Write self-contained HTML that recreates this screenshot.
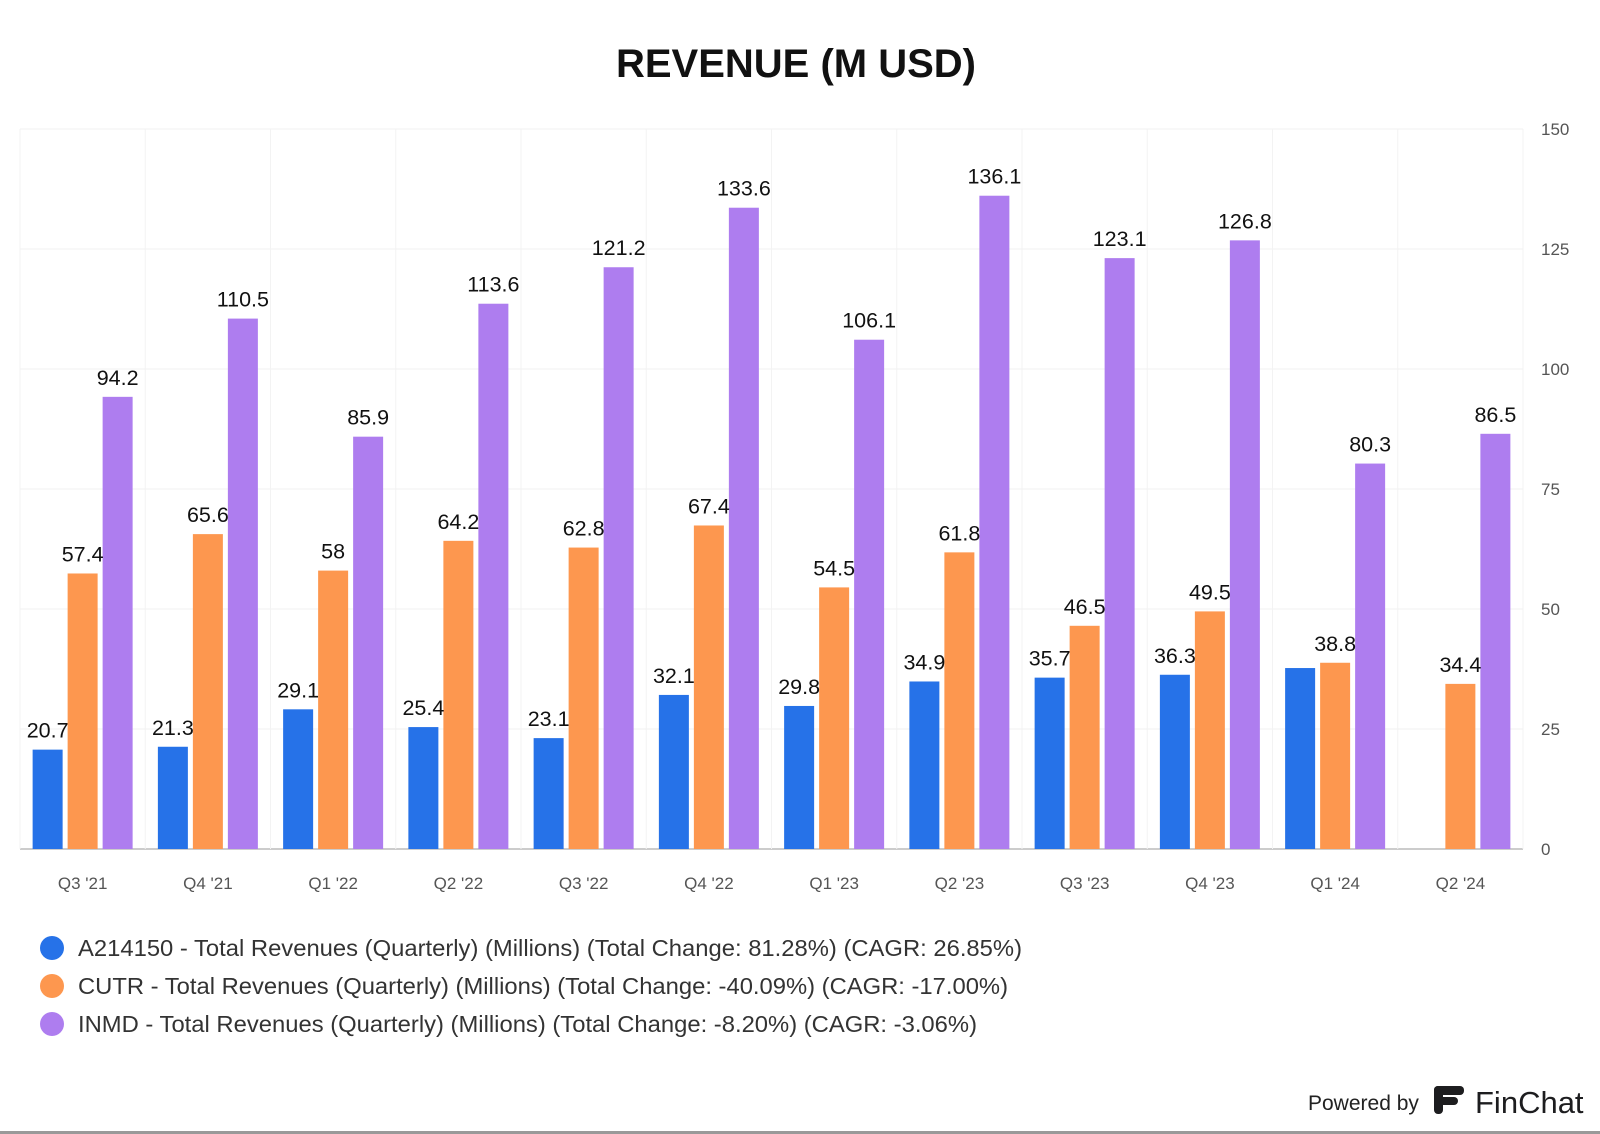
<!DOCTYPE html>
<html><head><meta charset="utf-8"><style>
html,body{margin:0;padding:0;background:#fff;}
body{width:1600px;height:1134px;position:relative;overflow:hidden;font-family:"Liberation Sans",sans-serif;}
</style></head><body>
<svg id="chart" width="1600" height="1134" xmlns="http://www.w3.org/2000/svg" style="position:absolute;left:0;top:0">
<text x="796" y="77" text-anchor="middle" font-family="Liberation Sans, sans-serif" font-weight="bold" font-size="40" fill="#111">REVENUE (M USD)</text>
<g id="grid"></g><g id="bars"></g><g id="labels"></g><g id="axes"></g>
<g font-size="23" fill="#333">
 <g><circle cx="52" cy="948" r="12" fill="#2672E8"/><text x="78" y="956" textLength="944" lengthAdjust="spacingAndGlyphs">A214150 - Total Revenues (Quarterly) (Millions) (Total Change: 81.28%) (CAGR: 26.85%)</text></g>
 <g><circle cx="52" cy="986" r="12" fill="#FD974F"/><text x="78" y="994" textLength="930" lengthAdjust="spacingAndGlyphs">CUTR - Total Revenues (Quarterly) (Millions) (Total Change: -40.09%) (CAGR: -17.00%)</text></g>
 <g><circle cx="52" cy="1024" r="12" fill="#AE7DEF"/><text x="78" y="1032" textLength="899" lengthAdjust="spacingAndGlyphs">INMD - Total Revenues (Quarterly) (Millions) (Total Change: -8.20%) (CAGR: -3.06%)</text></g>
</g>
<g>
 <text x="1308" y="1110" font-size="21" fill="#222">Powered by</text>
 <g fill="#1d1d1f">
  <rect x="1434" y="1086" width="30" height="9" rx="4"/>
  <rect x="1434" y="1097" width="24" height="8" rx="4"/>
  <rect x="1434" y="1086" width="9" height="28" rx="4"/>
 </g>
 <text x="1475" y="1113" font-size="31" fill="#1d1d1f">FinChat</text>
</g>
<rect x="0" y="1131" width="1600" height="3" fill="#999"/>
</svg>
<script>
const categories=["Q3 '21","Q4 '21","Q1 '22","Q2 '22","Q3 '22","Q4 '22","Q1 '23","Q2 '23","Q3 '23","Q4 '23","Q1 '24","Q2 '24"];
const a214150=[20.7,21.3,29.1,25.4,23.1,32.1,29.8,34.9,35.7,36.3,37.7,null];
const a214150Labels=["20.7","21.3","29.1","25.4","23.1","32.1","29.8","34.9","35.7","36.3","",""];
const cutr=[57.4,65.6,58,64.2,62.8,67.4,54.5,61.8,46.5,49.5,38.8,34.4];
const inmd=[94.2,110.5,85.9,113.6,121.2,133.6,106.1,136.1,123.1,126.8,80.3,86.5];
const yTicks=[0,25,50,75,100,125,150];
const NS="http://www.w3.org/2000/svg";
const L=20,R=1523,T=129,B=849,yMax=150;
const bandW=(R-L)/categories.length;
const y=v=>B-(v/yMax)*(B-T);
const xc=i=>L+bandW*(i+0.5);
function mk(tag,attrs,parent){const e=document.createElementNS(NS,tag);for(const k in attrs)e.setAttribute(k,attrs[k]);document.getElementById(parent).appendChild(e);return e;}
yTicks.forEach(t=>{
 const g=mk('line',{x1:L,x2:R,y1:y(t),y2:y(t),stroke:t===0?'#ccc':'#f0f0f0','stroke-width':t===0?2:1},'grid');
 
 
 const tx=mk('text',{x:1541,y:y(t)+6,'font-size':17,fill:'#555','text-anchor':'start'},'axes');
 tx.textContent=t;
 
 
});
for(let i=0;i<=categories.length;i++){
 const v=mk('line',{x1:L+bandW*i,x2:L+bandW*i,y1:T,y2:B,stroke:'#f3f3f3','stroke-width':1},'grid');
 
 
}
const series=[[a214150,'#2672E8',-35,'a214150',a214150Labels],[cutr,'#FD974F',0,'cutr',null],[inmd,'#AE7DEF',35,'inmd',null]];
categories.forEach((c,i)=>{
 const tx=mk('text',{x:xc(i),y:889,'font-size':17,fill:'#555','text-anchor':'middle'},'axes');
 tx.textContent=c;
 
 
 series.forEach(([vals,col,off,nm,labs])=>{
  const v=vals[i]; if(v==null) return;
  const cx=xc(i)+off;
  const r=mk('rect',{x:cx-15,y:y(v),width:30,height:B-y(v),fill:col},'bars');
  
  
  const lab=labs?labs[i]:String(v);
  if(lab){
   const t=mk('text',{x:cx,y:y(v)-12,'font-size':21.5,fill:'#111','text-anchor':'middle'},'labels');
   t.textContent=lab;
   
   
  }
 });
});
</script>
</body></html>
